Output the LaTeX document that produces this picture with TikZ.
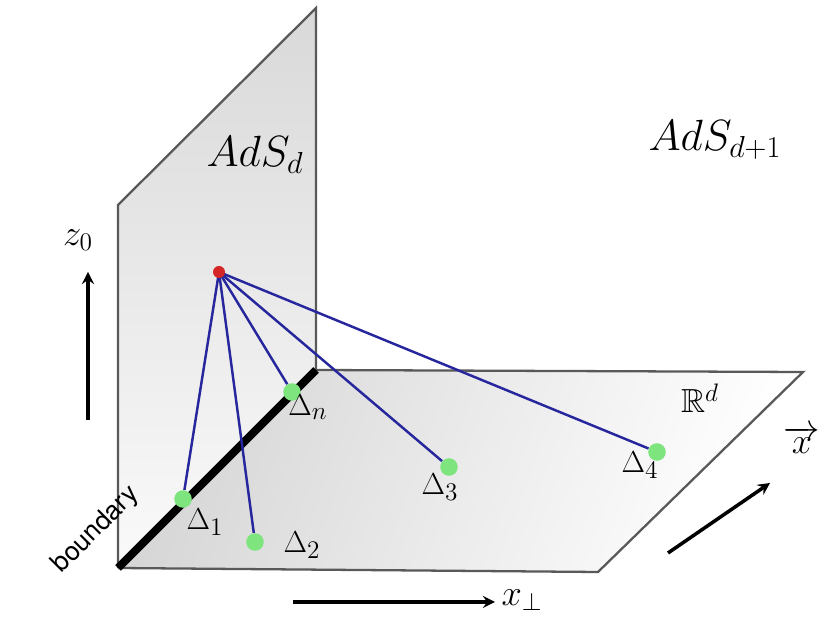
\documentclass[tikz,border=0pt]{standalone}
\usepackage{amssymb}
\usepackage{fontspec}
\setsansfont{TeX Gyre Heros}
\begin{document}
\begin{tikzpicture}[x=0.02cm,y=-0.02cm,>=stealth,
  plane/.style={draw=black!65,line width=1.3pt},
  ray/.style={draw=blue!55!black!85,line width=1.4pt},
  pt/.style={circle,fill=green!45!white!90!black,inner sep=0pt,minimum size=10pt},
  lbl/.style={font=\fontsize{19}{19}\selectfont}]
\useasboundingbox (0,0) rectangle (826,624);
% planes
\shade[top color=black!15,bottom color=black!2] (118,568)--(118,205)--(316,8)--(316,370)--cycle;
\draw[plane] (118,568)--(118,205)--(316,8)--(316,370);
\shade[left color=black!16,right color=white,shading angle=70] (118,568)--(316,370)--(803,372)--(598,572)--cycle;
\draw[plane] (316,370)--(803,372)--(598,572)--(118,568);
\draw[line width=4.5pt] (118,568)--(316,370);
% points
\coordinate (src) at (219,272);
\node[pt] (d1) at (183,499) {};
\node[pt] (d2) at (255,542) {};
\node[pt] (dn) at (292,392) {};
\node[pt] (d3) at (449,467) {};
\node[pt] (d4) at (657,452) {};
\foreach \p in {d1,d2,dn,d3,d4} \draw[ray] (src)--(\p);
\fill[red!80!black!85] (src) circle (6);
% labels
\node[lbl] at (205,522) {$\Delta_1$};
\node[lbl] at (302,545) {$\Delta_2$};
\node[lbl] at (308,407) {$\Delta_n$};
\node[lbl] at (440,487) {$\Delta_3$};
\node[lbl] at (640,465) {$\Delta_4$};
\node[font=\fontsize{24}{24}\selectfont] at (255,155) {$AdS_d$};
\node[font=\fontsize{24}{24}\selectfont] at (715,140) {$AdS_{d+1}$};
\node[lbl] at (700,398) {$\mathbb{R}^d$};
\node[font=\fontsize{22}{22}\selectfont] at (78,240) {$z_0$};
\draw[->,line width=2pt] (88,420)--(88,272);
\draw[->,line width=2pt] (668,553)--(770,483);
\node[font=\fontsize{22}{22}\selectfont] at (802,440) {$\overrightarrow{x}$};
\draw[->,line width=2pt] (293,602)--(495,602);
\node[font=\fontsize{22}{22}\selectfont] at (522,600) {$x_\perp$};
\node[rotate=45,font=\sffamily\fontsize{15}{15}\selectfont] at (96,530) {boundary};
\end{tikzpicture}
\end{document}
